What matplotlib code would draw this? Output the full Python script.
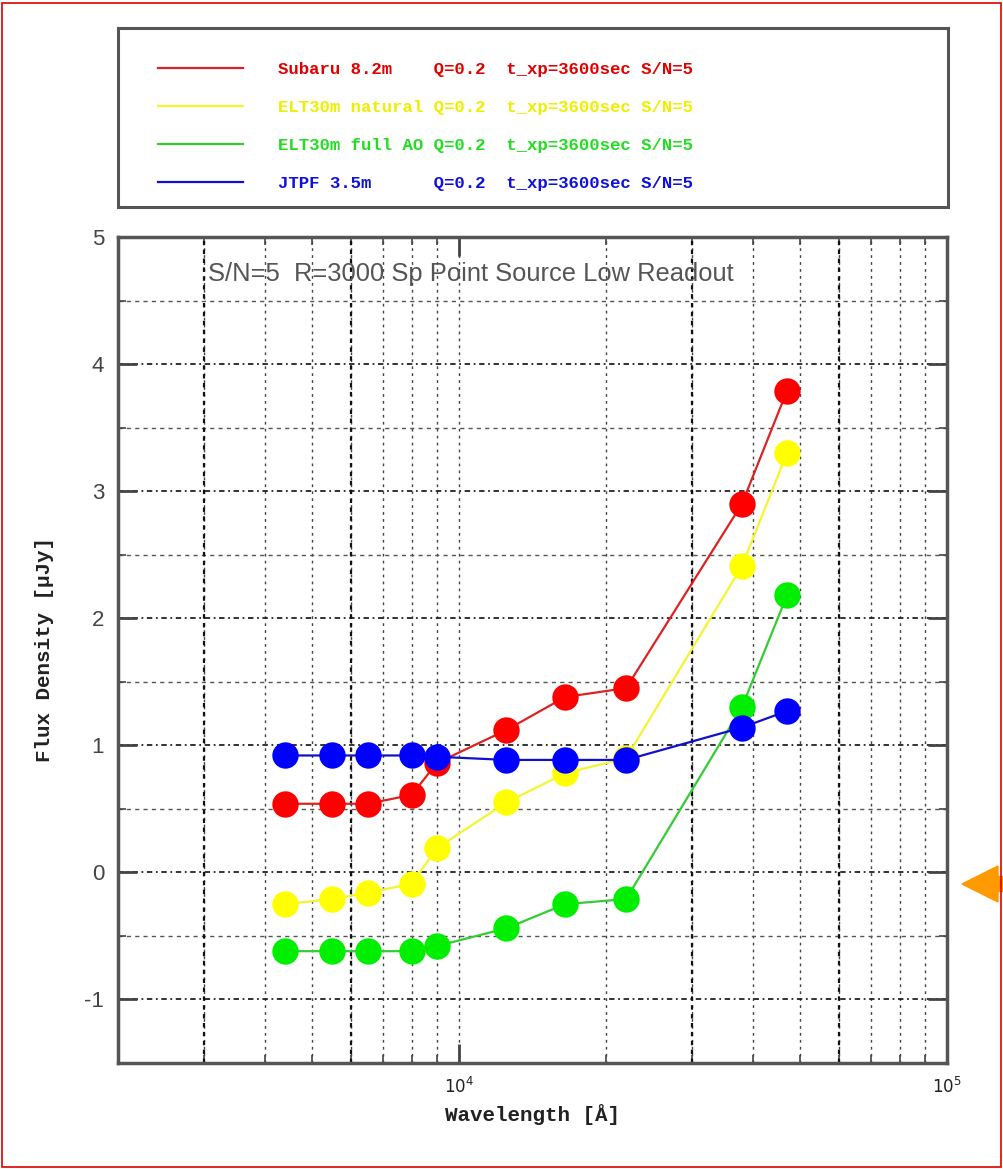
import matplotlib
matplotlib.use("Agg")
import matplotlib.pyplot as plt
from matplotlib.lines import Line2D
from matplotlib.patches import Rectangle, FancyArrow

plt.rcParams["axes.unicode_minus"] = False

# wavelengths [A] of the bands
wave = [4400, 5500, 6500, 8000, 9000, 12500, 16500, 22000, 38000, 47000]

# log10 flux density [uJy]
subaru = [0.54, 0.54, 0.54, 0.61, 0.86, 1.12, 1.38, 1.45, 2.90, 3.79]
elt_natural = [-0.25, -0.21, -0.16, -0.09, 0.19, 0.55, 0.78, 0.90, 2.41, 3.30]
elt_ao = [-0.62, -0.62, -0.62, -0.62, -0.58, -0.44, -0.25, -0.21, 1.30, 2.18]
jtpf = [0.92, 0.92, 0.92, 0.92, 0.91, 0.885, 0.885, 0.885, 1.14, 1.27]

labels = ["Subaru 8.2m    Q=0.2  t_xp=3600sec S/N=5",
          "ELT30m natural Q=0.2  t_xp=3600sec S/N=5",
          "ELT30m full AO Q=0.2  t_xp=3600sec S/N=5",
          "JTPF 3.5m      Q=0.2  t_xp=3600sec S/N=5"]
line_colors = ["#dd2222", "#f4f430", "#33cc33", "#1010cc"]
dot_colors = ["#ff0000", "#ffff00", "#00ee00", "#0000ff"]
text_colors = ["#e00000", "#eeee00", "#22dd22", "#1010dd"]

emph_x = [3000, 6000, 30000, 60000]

W, H = 1004, 1169
fig = plt.figure(figsize=(W / 100, H / 100), dpi=100)
ax = fig.add_axes([118 / W, 1 - 1063 / H, 829 / W, 826 / H])

series = [subaru, elt_natural, elt_ao, jtpf]
order = [2, 1, 0, 3]
for i in order:
    ax.plot(wave, series[i], color=line_colors[i], lw=1.6, zorder=3 + i)
    ax.plot(wave, series[i], "o", color=dot_colors[i], ms=19, mew=0, zorder=3 + i)

ax.set_xscale("log")
ax.set_xlim(2000, 100000)
ax.set_ylim(-1.5, 5)
ax.set_yticks([-1, 0, 1, 2, 3, 4, 5])
ax.set_yticks([-1.5, -0.5, 0.5, 1.5, 2.5, 3.5, 4.5], minor=True)

# grid
ax.grid(True, which="major", axis="y", color="#222222", lw=1.3, ls=(0, (3, 2, 1, 2)))
ax.grid(True, which="minor", axis="y", color="#555555", lw=1.0, ls=(0, (3, 3)))
ax.grid(True, which="both", axis="x", color="#444444", lw=1.0, ls=(0, (2, 3)))
for xv in emph_x:
    ax.axvline(xv, color="#111111", lw=1.6, ls=(0, (2, 2)), zorder=1)
ax.set_axisbelow(True)

for s in ax.spines.values():
    s.set_color("#555555")
    s.set_linewidth(2.5)
ax.tick_params(which="major", direction="in", length=14, width=2, color="#444444",
               top=True, right=True, labelsize=16, labelcolor="#444444", pad=10)
ax.tick_params(which="minor", direction="in", length=6, width=1.2, color="#444444",
               top=True, right=True)
for t in ax.get_xticklabels():
    t.set_color("#222222")
    t.set_fontsize(12)
for t in ax.get_yticklabels():
    t.set_fontfamily("Liberation Sans")

mono = "Liberation Mono"
ax.set_xlabel("Wavelength [Å]", family=mono, weight="bold", fontsize=15, color="#222222", labelpad=5)
ax.set_ylabel("Flux Density [μJy]", family=mono, weight="bold", fontsize=15, color="#222222", labelpad=22)

ax.text(0.109, 0.97, "S/N=5  R=3000 Sp Point Source Low Readout", transform=ax.transAxes,
        family="Liberation Sans", fontsize=18.4, color="#555555", va="top", ha="left", zorder=10)

# legend box above the plot
handles = [Line2D([], [], color=c, lw=1.6) for c in line_colors]
leg = fig.legend(handles, labels, loc="upper left",
                 bbox_to_anchor=(158 / W, 1 - 62 / H),
                 prop={"family": mono, "weight": "bold", "size": 12.5},
                 handlelength=4.9, handletextpad=2.0, borderpad=0, labelspacing=1.32,
                 borderaxespad=0, frameon=False)
for t, c in zip(leg.get_texts(), text_colors):
    t.set_color(c)
fig.add_artist(Rectangle((118 / W, 1 - 207 / H), 830 / W, 179 / H, fill=False,
                         edgecolor="#555555", lw=2.2, transform=fig.transFigure))

# orange pointer at zero level
fig.add_artist(FancyArrow(1.0, 1 - 884 / H, -42 / W, 0, width=15 / H, head_width=36 / H,
                          head_length=36 / W, length_includes_head=True,
                          color="#ff9900", transform=fig.transFigure))

# red frame round the whole picture
fig.add_artist(Rectangle((2 / W, 2 / H), 1 - 5 / W, 1 - 5 / H, fill=False,
                         edgecolor="#dd0000", lw=1.2, transform=fig.transFigure))

fig.savefig("out.png", dpi=100)
